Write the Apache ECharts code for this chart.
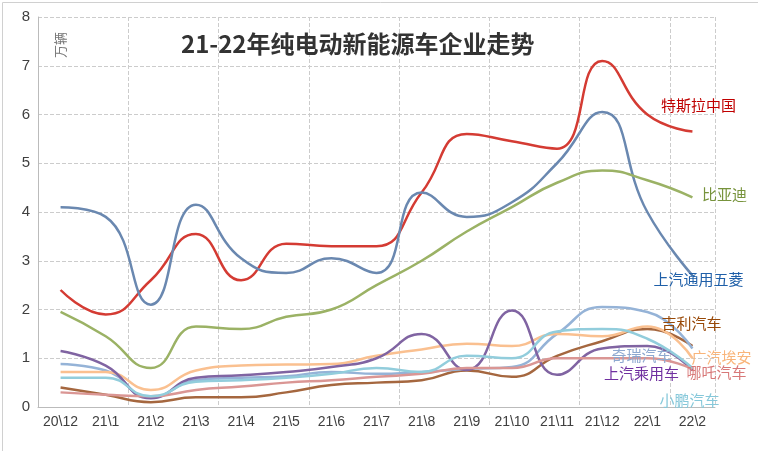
<!DOCTYPE html><html><head><meta charset="utf-8"><script src="https://cdn.jsdelivr.net/npm/echarts@6/dist/echarts.min.js"></script></head><body style="margin:0"><div id="c" style="width:758px;height:451px"></div><script>
const categories=['20\\12','21\\1','21\\2','21\\3','21\\4','21\\5','21\\6','21\\7','21\\8','21\\9','21\\10','21\\11','21\\12','22\\1','22\\2'];
const names=['特斯拉中国','上汽通用五菱','比亚迪','吉利汽车','奇瑞汽车','广汽埃安','上汽乘用车','哪吒汽车','小鹏汽车'];
const tesla=[2.4,1.9,2.6,3.55,2.6,3.35,3.3,3.3,4.4,5.6,5.45,5.3,7.1,6.0,5.65];
const wuling=[4.1,3.9,2.1,4.15,3.05,2.75,3.05,2.75,4.4,3.9,4.2,5.0,6.05,4.0,2.7];
const byd=[1.95,1.45,0.8,1.65,1.6,1.85,2.0,2.5,3.0,3.6,4.1,4.6,4.85,4.65,4.3];
const geely=[0.4,0.25,0.1,0.2,0.2,0.3,0.45,0.5,0.55,0.75,0.62,1.05,1.35,1.6,1.25];
const chery=[0.88,0.75,0.2,0.55,0.6,0.63,0.72,0.68,0.72,0.78,0.82,1.5,2.05,1.95,1.2];
const aion=[0.72,0.72,0.35,0.75,0.85,0.87,0.88,1.05,1.18,1.3,1.25,1.5,1.45,1.65,1.0];
const saic=[1.15,0.85,0.18,0.6,0.65,0.72,0.82,1.0,1.5,0.76,1.98,0.66,1.2,1.25,0.75];
const neta=[0.3,0.25,0.22,0.35,0.42,0.5,0.55,0.62,0.68,0.8,0.8,1.0,1.0,1.0,0.78];
const xpeng=[0.6,0.6,0.22,0.52,0.55,0.6,0.68,0.8,0.72,1.05,1.0,1.55,1.6,1.4,0.8];
const data=[tesla,wuling,byd,geely,chery,aion,saic,neta,xpeng];
const colors=['#D43B33','#6A88B0','#9BB265','#A5673F','#95B3D7','#FAC090','#8064A2','#DA9694','#92CDDC'];
const labelColors=['#C00000','#1F5FA8','#77933C','#984807','#8EA9D0','#F9B57A','#7030A0','#D87878','#86C8DA'];
const offs=[[6,-26],[6,4],[32,-3],[-1,-23],[-51,7],[29,-1],[-51,3],[24,3],[-3,32]];
const ch=echarts.init(document.getElementById('c'));
ch.setOption({
 animation:false,
 title:{text:'21-22年纯电动新能源车企业走势',left:176,top:27,textStyle:{fontSize:24,fontWeight:'bold',color:'#333',fontFamily:'Noto Sans CJK SC'}},
 graphic:[{type:'rect',left:0,top:0,shape:{width:757,height:450},style:{fill:'none',stroke:'#d0d0d0'}},
   {type:'text',left:54,top:32,rotation:Math.PI/2,style:{text:'万辆',fill:'#777',font:'13px "Noto Sans CJK SC"'}}],
 grid:{left:38,right:43,top:17,bottom:44},
 xAxis:{type:'category',data:categories,boundaryGap:true,axisTick:{show:false},axisLine:{lineStyle:{color:'#bbb'}},
   axisLabel:{color:'#404040',fontSize:14,interval:0,fontFamily:'Liberation Sans'},splitLine:{show:true,interval:1,lineStyle:{type:'dashed',color:'#ccc'}}},
 yAxis:{type:'value',min:0,max:8,interval:1,axisLabel:{color:'#404040',fontSize:15,fontFamily:'Liberation Sans'},axisLine:{show:true,lineStyle:{color:'#bbb'}},splitLine:{lineStyle:{type:'dashed',color:'#ccc'}}},
 series:data.map((d,i)=>({name:names[i],type:'line',data:d,smooth:0.5,symbol:'none',lineStyle:{width:2.5,color:colors[i]},itemStyle:{color:colors[i]},
   endLabel:{show:true,formatter:names[i],position:'right',distance:0,align:'center',verticalAlign:'middle',offset:offs[i],color:labelColors[i],fontSize:15,fontFamily:'Noto Sans CJK SC'}}))
});
</script></body></html>
